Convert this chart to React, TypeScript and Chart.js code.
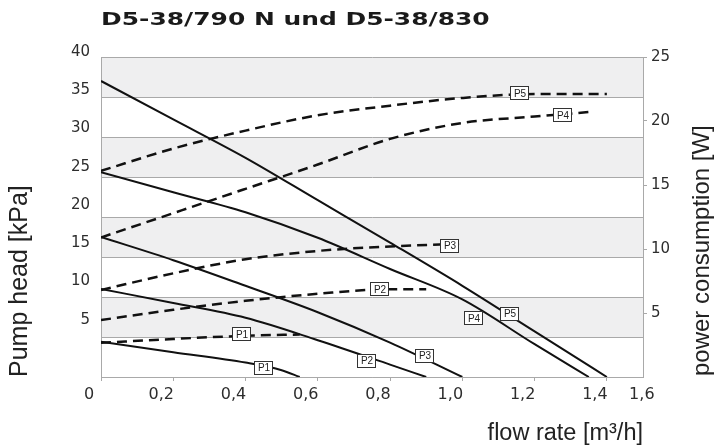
import React, { useEffect, useRef } from 'react';
import { Chart, registerables } from 'chart.js';

Chart.register(...registerables);

const chartTitle = 'D5-38/790 N und D5-38/830';
const xTitle = 'flow rate [m³/h]';
const yTitle = 'Pump head [kPa]';
const y1Title = 'power consumption [W]';

const xTickValues = [0, 0.2, 0.4, 0.6, 0.8, 1.0, 1.2, 1.4, 1.53];
const xTickLabels = ['0', '0,2', '0,4', '0,6', '0,8', '1,0', '1,2', '1,4', '1,6'];
const headTickValues = [5, 10, 15, 20, 25, 30, 35, 40];
const powerTickValues = [5, 10, 15, 20, 25];
const shadedBands = [[35, 40], [25, 30], [15, 20], [5, 10]];

// Pump head curves (kPa) vs flow (m3/h)
const headP1Flow = [0, 0.2, 0.4, 0.5, 0.55];
const headP1 = [4.4, 3.1, 1.8, 0.85, 0];
const headP2Flow = [0, 0.2, 0.4, 0.6, 0.8, 0.9];
const headP2 = [11.0, 9.25, 7.4, 4.6, 1.55, 0];
const headP3Flow = [0, 0.2, 0.4, 0.6, 0.8, 1.0];
const headP3 = [17.5, 14.6, 11.4, 8.1, 4.3, 0];
const headP4Flow = [0, 0.2, 0.4, 0.6, 0.8, 1.0, 1.2, 1.35];
const headP4 = [25.6, 23.1, 20.6, 17.4, 13.5, 9.7, 4.1, 0];
const headP5Flow = [0, 0.2, 0.4, 0.6, 0.8, 1.0, 1.2, 1.4];
const headP5 = [37.0, 32.2, 27.4, 22.1, 16.8, 11.4, 5.7, 0];

// Power consumption curves (W) vs flow (m3/h)
const powerP1Flow = [0, 0.2, 0.4, 0.55];
const powerP1 = [2.67, 2.97, 3.22, 3.32];
const powerP2Flow = [0, 0.2, 0.4, 0.6, 0.8, 0.9];
const powerP2 = [4.45, 5.25, 5.95, 6.5, 6.85, 6.85];
const powerP3Flow = [0, 0.2, 0.4, 0.6, 0.8, 1.0];
const powerP3 = [6.8, 8.1, 9.2, 9.85, 10.2, 10.4];
const powerP4Flow = [0, 0.2, 0.4, 0.6, 0.8, 1.0, 1.2, 1.35];
const powerP4 = [10.9, 12.8, 14.7, 16.6, 18.6, 19.85, 20.35, 20.7];
const powerP5Flow = [0, 0.2, 0.4, 0.6, 0.8, 1.0, 1.2, 1.4];
const powerP5 = [16.1, 17.85, 19.25, 20.45, 21.2, 21.8, 22.1, 22.1];

// Curve tags
const tagNames = ['P1', 'P2', 'P3', 'P4', 'P5'];
const headTagFlow = [0.448, 0.733, 0.894, 1.03, 1.129];
const headTagValue = [1.25, 2.1, 2.75, 7.4, 8.0];
const powerTagFlow = [0.387, 0.769, 0.963, 1.276, 1.157];
const powerTagValue = [3.36, 6.88, 10.31, 20.47, 22.19];

const pts = (xs: number[], ys: number[]) => xs.map((x, i) => ({ x, y: ys[i] }));

const tickFont = { family: '"DejaVu Sans"', size: 15 };
const gridColor = '#a9a9a9';
const textColor = '#2d2d2d';

const bandPlugin = {
  id: 'bands',
  beforeDraw(chart: any) {
    const y = chart.scales.y;
    const { left, right } = chart.chartArea;
    const ctx = chart.ctx;
    ctx.save();
    ctx.fillStyle = '#efeff0';
    shadedBands.forEach(([lo, hi]) => {
      const top = y.getPixelForValue(hi);
      const bottom = y.getPixelForValue(lo);
      ctx.fillRect(left, top, right - left, bottom - top);
    });
    ctx.restore();
  },
};

const tagPlugin = {
  id: 'tags',
  afterDatasetsDraw(chart: any) {
    const ctx = chart.ctx;
    const x = chart.scales.x;
    const draw = (axis: any, fx: number[], vy: number[]) => {
      tagNames.forEach((name, i) => {
        const px = x.getPixelForValue(fx[i]);
        const py = axis.getPixelForValue(vy[i]);
        const w = 18;
        const h = 13;
        ctx.save();
        ctx.fillStyle = '#ffffff';
        ctx.fillRect(Math.round(px - w / 2) + 0.5, Math.round(py - h / 2) + 0.5, w, h);
        ctx.strokeStyle = '#333333';
        ctx.lineWidth = 1;
        ctx.strokeRect(Math.round(px - w / 2) + 0.5, Math.round(py - h / 2) + 0.5, w, h);
        ctx.fillStyle = '#222222';
        ctx.font = '10px "Liberation Sans"';
        ctx.textAlign = 'center';
        ctx.textBaseline = 'middle';
        ctx.fillText(name, Math.round(px) + 1, Math.round(py) + 1);
        ctx.restore();
      });
    };
    draw(chart.scales.y, headTagFlow, headTagValue);
    draw(chart.scales.y1, powerTagFlow, powerTagValue);
  },
};

const rightTitlePlugin = {
  id: 'rightTitle',
  afterDraw(chart: any) {
    const s = chart.scales.y1;
    const ctx = chart.ctx;
    ctx.save();
    ctx.font = '24px "Liberation Sans"';
    ctx.fillStyle = '#222222';
    ctx.translate(s.right - 5.5, s.bottom - 1);
    ctx.rotate(-Math.PI / 2);
    ctx.textAlign = 'left';
    ctx.textBaseline = 'alphabetic';
    ctx.fillText(y1Title, 0, 0);
    ctx.restore();
  },
};

export default function App() {
  const ref = useRef<HTMLCanvasElement | null>(null);

  useEffect(() => {
    if (!ref.current) return;
    const headSets = [
      [headP1Flow, headP1], [headP2Flow, headP2], [headP3Flow, headP3], [headP4Flow, headP4], [headP5Flow, headP5],
    ].map(([xs, ys], i) => ({
      label: 'head ' + tagNames[i],
      data: pts(xs as number[], ys as number[]),
      yAxisID: 'y',
      borderColor: '#111111',
      borderWidth: 2,
      pointRadius: 0,
      fill: false,
      cubicInterpolationMode: 'monotone' as const,
    }));
    const powerSets = [
      [powerP1Flow, powerP1], [powerP2Flow, powerP2], [powerP3Flow, powerP3], [powerP4Flow, powerP4], [powerP5Flow, powerP5],
    ].map(([xs, ys], i) => ({
      label: 'power ' + tagNames[i],
      data: pts(xs as number[], ys as number[]),
      yAxisID: 'y1',
      borderColor: '#111111',
      borderWidth: 2.5,
      borderDash: [10, 6],
      pointRadius: 0,
      fill: false,
      cubicInterpolationMode: 'monotone' as const,
    }));

    const chart = new Chart(ref.current, {
      type: 'line',
      data: { datasets: [...headSets, ...powerSets] as any },
      options: {
        animation: false,
        responsive: false,
        layout: { padding: { top: 57, left: 0, right: 0, bottom: 0 } },
        plugins: { legend: { display: false }, tooltip: { enabled: false }, title: { display: false } },
        scales: {
          x: {
            type: 'linear',
            min: 0,
            max: 1.5,
            afterBuildTicks: (s: any) => { s.ticks = xTickValues.map((v) => ({ value: v })); },
            afterFit: (s: any) => { s.height = 68; },
            ticks: {
              callback: (_v: any, i: number) => xTickLabels[i],
              labelOffset: -12,
              padding: 4,
              font: { family: '"DejaVu Sans"', size: 16 },
              color: textColor,
              maxRotation: 0,
              autoSkip: false,
            },
            grid: {
              drawOnChartArea: false,
              drawTicks: true,
              tickLength: 4,
              tickColor: (c: any) => (c.tick && c.tick.value > 1.5 ? 'rgba(0,0,0,0)' : gridColor),
            },
            border: { display: true, color: gridColor },
            title: {
              display: true,
              text: xTitle,
              align: 'end',
              color: '#222222',
              font: { family: '"Liberation Sans"', size: 23.5, lineHeight: 1 },
              padding: { top: 0, bottom: 0 },
            },
          },
          y: {
            type: 'linear',
            position: 'left',
            weight: 0,
            min: 0,
            max: 40,
            ticks: { display: false, stepSize: 5 },
            grid: { color: gridColor, drawTicks: false, lineWidth: 1 },
            border: { display: true, color: gridColor },
            afterFit: (s: any) => { s.width = 0; },
          },
          yl: {
            type: 'linear',
            position: 'left',
            weight: 1,
            min: -1.84,
            max: 40,
            afterBuildTicks: (s: any) => { s.ticks = headTickValues.map((v) => ({ value: v })); },
            afterFit: (s: any) => { s.width = 101; },
            ticks: {
              labelOffset: -5,
              padding: 11,
              font: tickFont,
              color: textColor,
              autoSkip: false,
            },
            grid: { display: false, drawTicks: false },
            border: { display: false },
            title: {
              display: true,
              text: yTitle,
              align: 'start',
              color: '#222222',
              font: { family: '"Liberation Sans"', size: 25, lineHeight: 1 },
              padding: { top: 8, bottom: 0 },
            },
          },
          y1: {
            type: 'linear',
            position: 'right',
            min: 0,
            max: 25,
            afterBuildTicks: (s: any) => { s.ticks = powerTickValues.map((v) => ({ value: v })); },
            afterFit: (s: any) => { s.width = 71; },
            ticks: { padding: 4, font: tickFont, color: textColor, autoSkip: false },
            grid: { drawOnChartArea: false, drawTicks: true, tickLength: 4, tickColor: gridColor },
            border: { display: true, color: gridColor },
          },
        },
      } as any,
      plugins: [bandPlugin, tagPlugin, rightTitlePlugin],
    });
    return () => chart.destroy();
  }, []);

  return (
    <div style={{ position: 'fixed', left: 0, top: 0, width: 714, height: 445, background: '#ffffff' }}>
      <canvas ref={ref} width={714} height={445} style={{ position: 'absolute', left: 0, top: 0 }} />
      <div
        style={{
          position: 'absolute',
          left: 101,
          top: 10,
          fontFamily: '"DejaVu Sans"',
          fontWeight: 'bold',
          fontSize: 18,
          lineHeight: '18px',
          color: '#1a1a1a',
          whiteSpace: 'nowrap',
          transform: 'scaleX(1.385)',
          transformOrigin: 'left top',
        }}
      >
        {chartTitle}
      </div>
    </div>
  );
}
